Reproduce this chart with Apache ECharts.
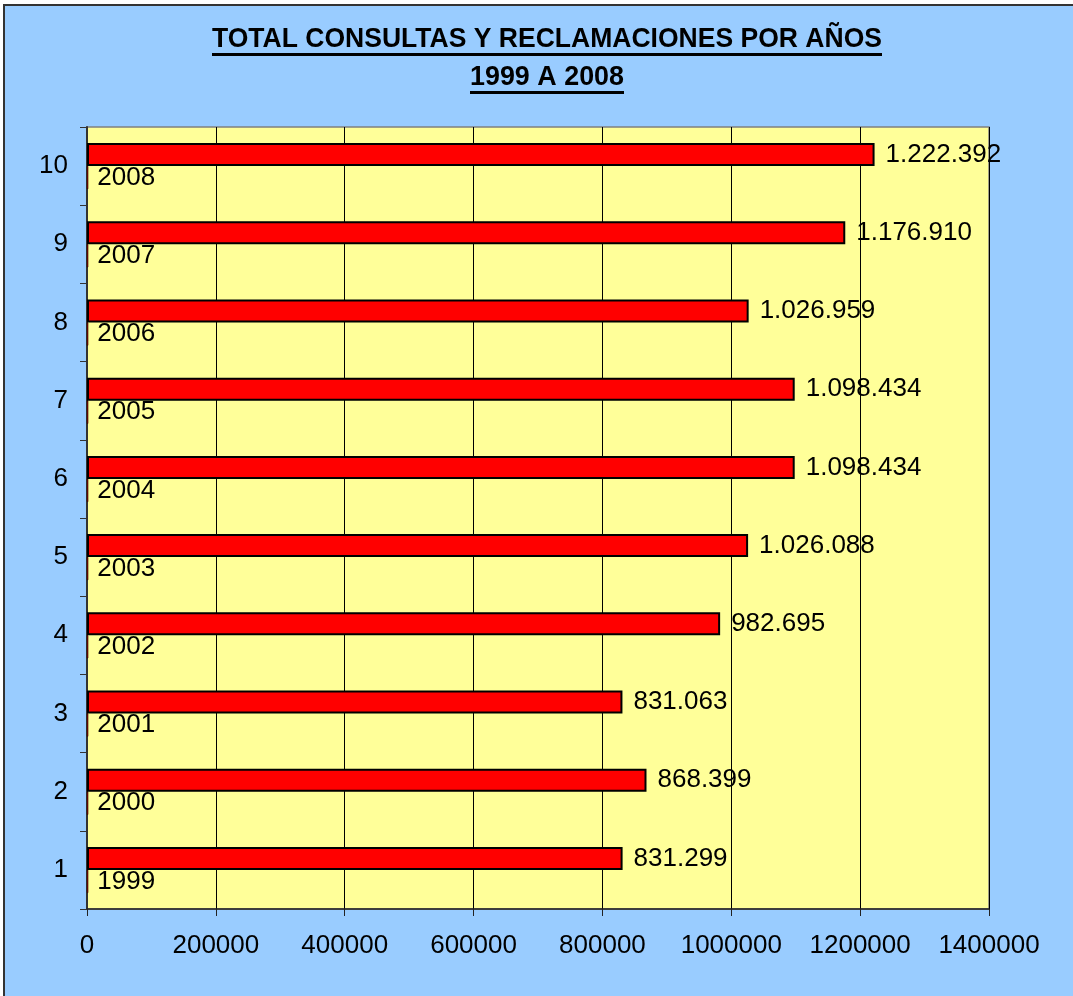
<!DOCTYPE html>
<html>
<head>
<meta charset="utf-8">
<script src="https://cdn.jsdelivr.net/npm/echarts@6/dist/echarts.min.js"></script>
<style>
  html, body { margin: 0; padding: 0; background: #ffffff; }
  #chart { width: 1073px; height: 996px; }
</style>
</head>
<body>
<div id="chart"></div>
<script>
// Category axis labels (row numbers)
const categories = ['1', '2', '3', '4', '5', '6', '7', '8', '9', '10'];
// Year of each row
const years = [1999, 2000, 2001, 2002, 2003, 2004, 2005, 2006, 2007, 2008];
// Total consultations and claims per year
const totals = [831299, 868399, 831063, 982695, 1026088, 1098434, 1098434, 1026959, 1176910, 1222392];
// Value axis ticks
const xTicks = [0, 200000, 400000, 600000, 800000, 1000000, 1200000, 1400000];

const titleLines = ['TOTAL CONSULTAS Y RECLAMACIONES POR AÑOS', '1999 A 2008'];

const FONT = 'Arial, "Liberation Sans", sans-serif';

function thousands(v) {
  return String(v).replace(/\B(?=(\d{3})+(?!\d))/g, '.');
}

// Measure title text to place the underlines and condense it to a fixed width
const ctx = document.createElement('canvas').getContext('2d');
const titleFontSize = 28;
ctx.font = 'bold ' + titleFontSize + 'px ' + FONT;
const titleWidths = [670, 154];
const titleY = [39, 77];
const centerX = 547;
const titleGraphics = [];
titleLines.forEach(function (t, i) {
  const natural = ctx.measureText(t).width;
  const sx = titleWidths[i] / natural;
  titleGraphics.push({
    type: 'text',
    x: centerX,
    y: titleY[i],
    scaleX: sx,
    z: 10,
    style: {
      text: t,
      font: 'bold ' + titleFontSize + 'px ' + FONT,
      fill: '#000',
      align: 'center',
      verticalAlign: 'middle'
    }
  });
  // underline
  titleGraphics.push({
    type: 'rect',
    shape: { x: centerX - titleWidths[i] / 2, y: titleY[i] + 14, width: titleWidths[i], height: 3 },
    z: 10,
    style: { fill: '#000' }
  });
});

const chart = echarts.init(document.getElementById('chart'), null, { renderer: 'canvas' });

chart.setOption({
  backgroundColor: '#ffffff',
  animation: false,
  textStyle: { fontFamily: FONT },
  graphic: [
    {
      type: 'rect',
      shape: { x: 4, y: 5, width: 1300, height: 1300 },
      z: -10,
      style: { fill: '#99CCFF', stroke: '#333333', lineWidth: 2 }
    }
  ].concat(titleGraphics),
  grid: {
    left: 87, right: 84, top: 127, bottom: 87,
    show: true,
    backgroundColor: '#FFFF99',
    borderColor: '#808080',
    borderWidth: 1.5
  },
  xAxis: {
    type: 'value',
    min: xTicks[0],
    max: xTicks[xTicks.length - 1],
    interval: xTicks[1] - xTicks[0],
    axisLine: { show: true, lineStyle: { color: '#222', width: 1.5 } },
    axisTick: { show: true, length: 7, lineStyle: { color: '#222', width: 1 } },
    axisLabel: {
      color: '#000', fontSize: 26, margin: 24, fontFamily: FONT,
      formatter: function (v) { return String(v); }
    },
    splitLine: { show: true, lineStyle: { color: '#000', width: 1 } }
  },
  yAxis: {
    type: 'category',
    data: categories,
    axisLine: { show: true, lineStyle: { color: '#333', width: 2 } },
    axisTick: { show: true, length: 7, lineStyle: { color: '#333', width: 1 } },
    axisLabel: { color: '#000', fontSize: 26, margin: 19, fontFamily: FONT },
    splitLine: { show: false }
  },
  series: [
    {
      name: 'Total',
      type: 'bar',
      data: totals,
      barWidth: 23,
      barGap: '0%',
      itemStyle: { color: '#FF0000', borderColor: '#000', borderWidth: 2 },
      label: {
        show: true,
        position: 'right',
        distance: 11,
        color: '#000',
        fontSize: 26,
        fontFamily: FONT,
        formatter: function (p) { return thousands(p.value); }
      }
    },
    {
      name: 'Año',
      type: 'bar',
      data: years,
      barWidth: 23,
      itemStyle: { color: '#FF0000', borderColor: '#000', borderWidth: 0.5 },
      label: {
        show: true,
        position: 'right',
        distance: 9,
        color: '#000',
        fontSize: 26,
        fontFamily: FONT,
        formatter: function (p) { return String(p.value); }
      }
    }
  ]
});
</script>
</body>
</html>
